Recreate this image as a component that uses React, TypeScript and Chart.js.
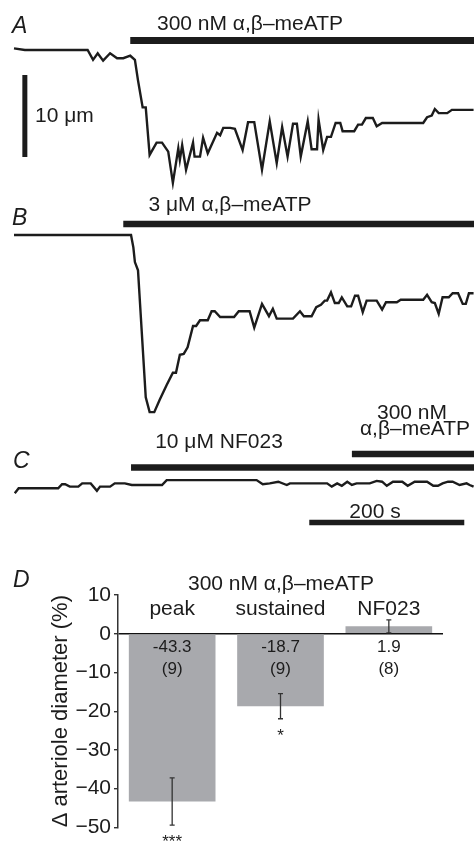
import React, { useEffect, useRef } from 'react';
import { Chart, registerables } from 'chart.js';

Chart.register(...registerables);

// ---------------- DATA ----------------
// Panel A: 300 nM α,β-meATP — time (s) and change in diameter (µm)
const TRACE_A_T = [0, 14, 95, 102, 108, 115, 124, 133, 141, 150, 156, 160, 166, 170, 175, 184, 191, 199, 205, 212, 214, 217, 222, 231, 233, 240, 244, 250, 262, 266, 270, 279, 285, 295, 302, 310, 320, 330, 339, 346, 353, 360, 365, 370, 379, 384, 391, 393, 399, 404, 409, 415, 421, 424, 439, 444, 449, 454, 463, 468, 475, 528, 533, 539, 543, 548, 559, 565, 593];
const TRACE_A_UM = [0.2, 0, 0, -1.2, -0.4, -1.3, -0.4, -1.0, -1.0, -0.7, -1.2, -3.7, -7.0, -7.0, -12.8, -11.3, -11.3, -12.4, -16.2, -12.0, -13.4, -11.6, -14.6, -11.3, -13.0, -13.0, -10.7, -12.6, -10.1, -10.4, -9.5, -9.5, -9.6, -12.2, -8.8, -8.8, -14.6, -8.7, -13.8, -9.4, -13.0, -9.0, -9.0, -13.0, -8.7, -12.1, -12.1, -8.5, -12.2, -10.6, -10.6, -8.9, -8.9, -9.9, -9.9, -9.1, -9.1, -8.3, -8.3, -9.3, -8.9, -8.9, -8.2, -8.0, -7.2, -7.7, -7.7, -7.3, -7.3];

// Panel B: 3 µM α,β-meATP
const TRACE_B_T = [0, 151, 154, 156, 160, 170, 175, 181, 188, 197, 205, 209, 214, 219, 224, 231, 235, 240, 250, 255, 259, 266, 284, 290, 304, 310, 320, 329, 334, 339, 360, 369, 374, 384, 390, 396, 401, 404, 409, 414, 419, 423, 430, 435, 440, 444, 450, 455, 468, 475, 480, 494, 499, 528, 533, 539, 543, 548, 553, 561, 566, 573, 579, 583, 587, 593];
const TRACE_B_UM = [0, 0, -1.5, -3.3, -4.3, -19.8, -21.6, -21.6, -20.1, -18.3, -16.8, -16.8, -14.6, -14.5, -13.7, -11.1, -11.1, -10.4, -10.4, -9.3, -9.3, -10.0, -10.0, -9.3, -9.3, -11.3, -8.4, -9.9, -9.0, -10.2, -10.2, -9.3, -9.9, -9.9, -8.8, -8.5, -8.0, -8.0, -7.0, -8.3, -8.3, -7.6, -8.7, -8.7, -7.4, -7.4, -9.4, -8.0, -8.0, -9.1, -8.2, -8.2, -7.9, -7.9, -7.3, -8.2, -8.3, -9.6, -7.6, -7.6, -7.1, -7.1, -8.4, -8.4, -7.1, -7.1];

// Panel C: 10 µM NF023 then 300 nM α,β-meATP
const TRACE_C_T = [1, 6, 57, 62, 66, 72, 83, 88, 99, 107, 111, 124, 130, 143, 152, 191, 197, 313, 321, 330, 341, 352, 356, 404, 410, 417, 423, 430, 436, 442, 459, 468, 475, 481, 489, 501, 508, 517, 533, 541, 547, 553, 560, 566, 575, 584, 588, 593];
const TRACE_C_UM = [-1.0, -0.4, -0.4, 0.1, 0.1, -0.2, -0.2, 0.2, 0.2, -0.7, -0.2, -0.2, 0.2, 0.2, 0, 0, 0.6, 0.6, 0.1, 0.2, 0.4, 0, 0.2, 0.2, -0.2, 0.2, -0.1, 0.4, 0, 0.2, 0.2, 0.5, 0.4, -0.1, 0.4, 0.4, -0.1, 0.4, 0.4, -0.1, -0.1, 0.2, 0.4, 0.4, 0, 0.2, 0, -0.2];

// Drug application periods (s)
const APPLICATION_A = [150, 594];
const APPLICATION_B = [141, 594];
const APPLICATION_C_NF023 = [151, 594];
const APPLICATION_C_ATP = [436, 594];

// Scale bars
const SCALE_TIME_S = [381, 581]; // 200 s
const SCALE_UM = [-3.05, -13.05]; // 10 µm

// Panel D: summary
const CATEGORIES = ['peak', 'sustained', 'NF023'];
const MEANS = [-43.3, -18.7, 1.9];
const SEMS = [6.1, 3.25, 1.7];
const N_CELLS = [9, 9, 8];
const SIGNIFICANCE = ['***', '*', ''];
const Y_TICKS = [-50, -40, -30, -20, -10, 0, 10];

// ---------------- LAYOUT ----------------
const FONT = '"Liberation Sans", Arial, Helvetica, sans-serif';
const INK = '#1c1c1c';
const W = 474;
const X_ORIGIN_PX = 14;
const PX_PER_S = 0.775;
const PX_PER_UM = 8.2;
const X_MIN = -X_ORIGIN_PX / PX_PER_S;
const X_MAX = (W - X_ORIGIN_PX) / PX_PER_S;

type TextItem = { text: string; x: number; y: number; size: number; align?: CanvasTextAlign; italic?: boolean; data?: boolean; baseline?: CanvasTextBaseline };

function textPlugin(items: TextItem[], offsetTop: number) {
  return {
    id: 'panelText',
    afterDraw(chart: any) {
      const ctx = chart.ctx as CanvasRenderingContext2D;
      ctx.save();
      for (const it of items) {
        let x = it.x;
        let y = it.y - offsetTop;
        if (it.data) {
          x = chart.scales.x.getPixelForValue(it.x);
          y = chart.scales.y.getPixelForValue(it.y);
        }
        ctx.font = `${it.italic ? 'italic ' : ''}${it.size}px ${FONT}`;
        ctx.fillStyle = INK;
        ctx.textAlign = it.align || 'left';
        ctx.textBaseline = it.baseline || 'alphabetic';
        ctx.fillText(it.text, x, y);
      }
      ctx.restore();
    },
  };
}

function pts(t: number[], v: number[]) {
  return t.map((x, i) => ({ x, y: v[i] }));
}

function traceDataset(t: number[], v: number[]) {
  return { data: pts(t, v), borderColor: INK, borderWidth: 2.4, pointRadius: 0, tension: 0, fill: false };
}

function barDataset(range: number[], level: number, width: number) {
  return {
    data: [{ x: range[0], y: level }, { x: range[1], y: level }],
    borderColor: INK, borderWidth: width, borderCapStyle: 'butt', pointRadius: 0, fill: false,
  };
}

function traceChart(canvas: HTMLCanvasElement, top: number, height: number, baseline: number, datasets: any[], texts: TextItem[]) {
  const ymax = (baseline - top) / PX_PER_UM;
  const ymin = ymax - height / PX_PER_UM;
  return new Chart(canvas, {
    type: 'line',
    data: { datasets },
    options: {
      animation: false,
      responsive: false,
      devicePixelRatio: 1,
      events: [],
      layout: { padding: 0 },
      plugins: { legend: { display: false }, tooltip: { enabled: false } },
      scales: {
        x: { type: 'linear', display: false, min: X_MIN, max: X_MAX },
        y: { type: 'linear', display: false, min: ymin, max: ymax },
      },
    },
    plugins: [textPlugin(texts, top)],
  } as any);
}

const errorBarPlugin = {
  id: 'errorBars',
  afterDatasetsDraw(chart: any) {
    const ctx = chart.ctx as CanvasRenderingContext2D;
    const y = chart.scales.y;
    const meta = chart.getDatasetMeta(0);
    ctx.save();
    ctx.strokeStyle = '#333';
    ctx.lineWidth = 1.3;
    meta.data.forEach((bar: any, i: number) => {
      const x = bar.x;
      const hi = y.getPixelForValue(MEANS[i] + SEMS[i]);
      const lo = y.getPixelForValue(MEANS[i] - SEMS[i]);
      ctx.beginPath();
      ctx.moveTo(x, hi); ctx.lineTo(x, lo);
      ctx.moveTo(x - 2.5, hi); ctx.lineTo(x + 2.5, hi);
      ctx.moveTo(x - 2.5, lo); ctx.lineTo(x + 2.5, lo);
      ctx.stroke();
      if (SIGNIFICANCE[i]) {
        ctx.font = `17px ${FONT}`;
        ctx.fillStyle = INK;
        ctx.textAlign = 'center';
        ctx.textBaseline = 'top';
        ctx.fillText(SIGNIFICANCE[i], x, lo + 9);
      }
    });
    ctx.restore();
  },
};

export default function App() {
  const refA = useRef<HTMLCanvasElement>(null);
  const refB = useRef<HTMLCanvasElement>(null);
  const refC = useRef<HTMLCanvasElement>(null);
  const refD = useRef<HTMLCanvasElement>(null);

  useEffect(() => {
    const charts: Chart[] = [];

    charts.push(traceChart(refA.current!, 0, 190, 50, [
      traceDataset(TRACE_A_T, TRACE_A_UM),
      barDataset(APPLICATION_A, 1.16, 7),
      { data: [{ x: 14, y: SCALE_UM[0] }, { x: 14, y: SCALE_UM[1] }], borderColor: INK, borderWidth: 5, borderCapStyle: 'butt', pointRadius: 0 },
    ], [
      { text: 'A', x: 12, y: 33, size: 23, italic: true },
      { text: '300 nM α,β–meATP', x: 250, y: 30, size: 21, align: 'center' },
      { text: '10 μm', x: 35, y: 122, size: 21 },
    ]));

    charts.push(traceChart(refB.current!, 190, 230, 235, [
      traceDataset(TRACE_B_T, TRACE_B_UM),
      barDataset(APPLICATION_B, 1.34, 6.5),
    ], [
      { text: 'B', x: 12, y: 225, size: 23, italic: true },
      { text: '3 μM α,β–meATP', x: 230, y: 211, size: 21, align: 'center' },
    ]));

    charts.push(traceChart(refC.current!, 395, 150, 485, [
      traceDataset(TRACE_C_T, TRACE_C_UM),
      barDataset(APPLICATION_C_NF023, 2.13, 6.5),
      barDataset(APPLICATION_C_ATP, 3.78, 6.5),
      barDataset(SCALE_TIME_S, -4.57, 5.5),
    ], [
      { text: 'C', x: 13, y: 468, size: 23, italic: true },
      { text: '10 μM NF023', x: 219, y: 448, size: 21, align: 'center' },
      { text: '300 nM', x: 412, y: 419, size: 21, align: 'center' },
      { text: 'α,β–meATP', x: 415, y: 435, size: 21, align: 'center' },
      { text: '200 s', x: 375, y: 518, size: 21, align: 'center' },
    ]));

    const dTop = 545;
    const dTexts: TextItem[] = [
      { text: 'D', x: 13, y: 587, size: 23, italic: true },
      { text: '300 nM α,β–meATP', x: 281, y: 590, size: 21, align: 'center' },
    ];
    CATEGORIES.forEach((c, i) => {
      dTexts.push({ text: c, x: i, y: 4.8, size: 21, align: 'center', data: true });
      dTexts.push({ text: MEANS[i].toFixed(1), x: i, y: -4.6, size: 17, align: 'center', data: true });
      dTexts.push({ text: `(${N_CELLS[i]})`, x: i, y: -10.5, size: 17, align: 'center', data: true });
    });

    charts.push(new Chart(refD.current!, {
      type: 'bar',
      data: {
        labels: CATEGORIES,
        datasets: [{
          data: MEANS,
          backgroundColor: '#a8a9ad',
          borderWidth: 0,
          barPercentage: 0.8,
          categoryPercentage: 1,
        }],
      },
      options: {
        animation: false,
        responsive: false,
        devicePixelRatio: 1,
        events: [],
        layout: { padding: { left: 0, right: 31, top: 50, bottom: 13 } },
        plugins: { legend: { display: false }, tooltip: { enabled: false } },
        scales: {
          x: { display: false },
          y: {
            min: Y_TICKS[0],
            max: Y_TICKS[Y_TICKS.length - 1],
            z: 1,
            afterBuildTicks: (s: any) => { s.ticks = Y_TICKS.map((v) => ({ value: v })); },
            afterFit: (s: any) => { s.width = 118; },
            ticks: {
              padding: 3,
              color: INK,
              font: { size: 21, family: FONT },
              callback: (v: any) => (Number(v) < 0 ? '\u2212' + Math.abs(Number(v)) : String(v)),
            },
            grid: {
              drawTicks: true,
              tickLength: 4,
              tickColor: '#333',
              lineWidth: 1.4,
              color: (c: any) => (c.tick && c.tick.value === 0 ? '#111' : 'rgba(0,0,0,0)'),
            },
            border: { display: true, color: '#333', width: 1.5 },
            title: {
              display: true,
              text: 'Δ arteriole diameter (%)',
              color: INK,
              font: { size: 22, family: FONT },
              padding: { top: 48, bottom: 0 },
            },
          },
        },
      },
      plugins: [errorBarPlugin, textPlugin(dTexts, dTop)],
    } as any));

    return () => charts.forEach((c) => c.destroy());
  }, []);

  const abs = (top: number, h: number): React.CSSProperties => ({ position: 'absolute', left: 0, top, width: W, height: h });

  return (
    <div style={{ position: 'absolute', left: 0, top: 0, width: W, height: 843, background: '#fff', overflow: 'hidden' }}>
      <canvas ref={refA} width={W} height={190} style={abs(0, 190)} />
      <canvas ref={refB} width={W} height={230} style={abs(190, 230)} />
      <canvas ref={refC} width={W} height={150} style={abs(395, 150)} />
      <canvas ref={refD} width={W} height={298} style={abs(545, 298)} />
    </div>
  );
}
